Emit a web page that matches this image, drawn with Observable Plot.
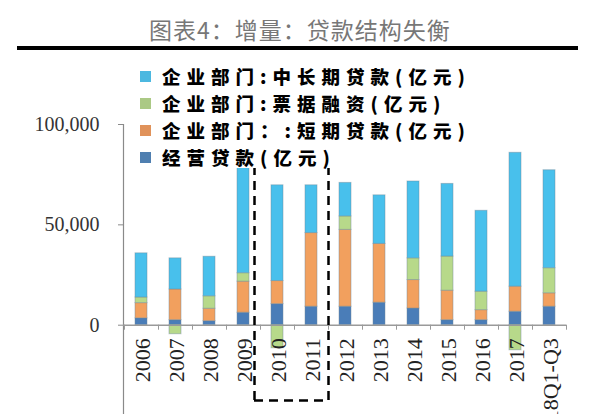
<!DOCTYPE html>
<html><head><meta charset="utf-8">
<script src="https://cdn.jsdelivr.net/npm/d3@7"></script>
<script src="https://cdn.jsdelivr.net/npm/@observablehq/plot@0.6"></script>
<style>
body{margin:0;background:#fff;}
#wrap{position:relative;width:600px;height:414px;overflow:hidden;}
#title{position:absolute;left:0;width:600px;top:18px;text-align:center;font-family:"Noto Sans CJK SC";font-size:23px;line-height:23px;color:#777;letter-spacing:1px;z-index:3;}
#rule{position:absolute;left:17px;width:561px;top:46px;height:4px;background:#000;z-index:3;}
#legend{position:absolute;left:136px;top:63px;height:105px;background:#fff;z-index:2;padding-right:6px;}
.row{height:27px;display:flex;align-items:center;}
.row .tx{display:inline-block;height:27px;line-height:27px;font-family:"Noto Sans CJK SC";font-weight:900;font-size:18.5px;letter-spacing:6px;color:#000;white-space:nowrap;}
.sw{width:11px;height:11px;margin-left:4px;margin-right:11px;flex:none;}
#chart{position:absolute;left:0;top:0;z-index:1;}
</style>
</head><body>
<div id="wrap">
  <div id="title">图表4：增量：贷款结构失衡</div>
  <div id="rule"></div>
  <div id="legend"></div>
  <div id="chart"></div>
</div>
<script>
const years = ["2006","2007","2008","2009","2010","2011","2012","2013","2014","2015","2016","2017","2018Q1-Q3"];
const midLong   = [22000,15500,19700,52500,47700,23800,16700,24200,38300,36200,40300,66700,48800];
const bills     = [2800,-4500,6200,4200,-11500,0,6700,0,10800,17000,9200,-12500,12500];
const shortTerm = [7600,15300,6200,15500,11500,36700,38300,29300,14200,14700,5000,12500,6700];
const business  = [3400,2500,2000,6200,10500,9200,9200,11200,8300,2500,2500,6700,9200];

const seriesNames = ["经营贷款(亿元)","企业部门：:短期贷款(亿元)","企业部门:票据融资(亿元)","企业部门:中长期贷款(亿元)"];
const seriesColors = ["#4a7db8","#f2a05e","#b7d98a","#48c0ec"];
const legendOrder = ["企业部门:中长期贷款(亿元)","企业部门:票据融资(亿元)","企业部门：:短期贷款(亿元)","经营贷款(亿元)"];
const legendColors = ["#4cb8e0","#abc985","#e0925a","#4f7fb0"];

const series = [business, shortTerm, bills, midLong];
const data = [];
years.forEach((yr, i) => {
  series.forEach((arr, k) => data.push({year: yr, s: seriesNames[k], v: arr[i]}));
});

const legend = document.getElementById("legend");
legendOrder.forEach((name, i) => {
  const r = document.createElement("div");
  r.className = "row";
  r.innerHTML = `<span class="sw" style="background:${legendColors[i]}"></span><span class="tx">${name}</span>`;
  legend.appendChild(r);
});

const serif = "Liberation Serif";
const chart = Plot.plot({
  width: 600, height: 414,
  marginTop: 124, marginBottom: 0, marginLeft: 123, marginRight: 34,
  style: {fontFamily: serif, fontSize: "20px", color: "#333", background: "transparent"},
  x: {domain: years, paddingInner: 0.65, paddingOuter: 0.33, axis: null},
  y: {domain: [-44500, 100000], axis: null},
  color: {domain: seriesNames, range: seriesColors},
  marks: [
    Plot.barY(data, {x: "year", y: "v", fill: "s", stroke: "#6f8796", strokeOpacity: 0.45, strokeWidth: 1}),
    Plot.frame({anchor: "left", stroke: "#8a8a8a", strokeWidth: 1.2}),
    Plot.axisY({ticks: [0, 50000, 100000], tickFormat: d3.format(","), tickSize: 5, tickPadding: 19, fontSize: 20, fontFamily: serif, fill: "#333", stroke: "#8a8a8a", label: null}),
    Plot.ruleY([0], {stroke: "#9a9a9a", strokeWidth: 1.5}),
    Plot.ruleX(years, {x: d => d, y1: 0, y2: -2500, dx: -17, stroke: "#9a9a9a"}),
    Plot.ruleX(years.slice(-1), {x: d => d, y1: 0, y2: -2500, dx: 17, stroke: "#9a9a9a"}),
    Plot.text(years, {x: d => d, y: 0, dy: 13, dx: 1, text: d => d, rotate: -90, textAnchor: "end", fontSize: 22, fontFamily: serif, fill: "#222"}),
    Plot.ruleX(["2010"], {x: d => d, y1: -37500, y2: 80000, dx: -23, stroke: "#000", strokeWidth: 2.5, strokeDasharray: "9,6"}),
    Plot.ruleX(["2011"], {x: d => d, y1: -37500, y2: 80000, dx: 17, stroke: "#000", strokeWidth: 2.5, strokeDasharray: "9,6"}),
    Plot.ruleY([-37500], {x1: () => "2010", x2: () => "2011", insetLeft: -17, insetRight: -11, stroke: "#000", strokeWidth: 2.5, strokeDasharray: "9,6"})
  ]
});
document.getElementById("chart").appendChild(chart);
</script>
</body></html>
